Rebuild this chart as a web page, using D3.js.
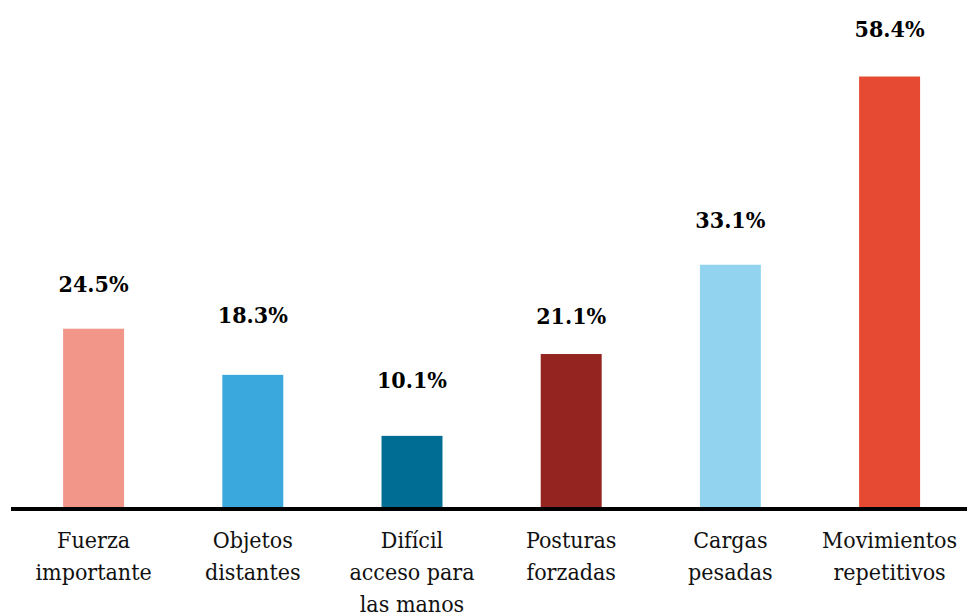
<!DOCTYPE html>
<html>
<head>
<meta charset="utf-8">
<script src="https://cdn.jsdelivr.net/npm/d3@7"></script>
<style>
  html, body { margin: 0; padding: 0; background: #fff; }
  svg { display: block; }
  text { font-family: "DejaVu Serif Condensed", "DejaVu Serif", serif; font-stretch: condensed; }
</style>
</head>
<body>
<svg id="chart" width="967" height="612"></svg>
<script>
// ---- data ----
const categories = ["Fuerza importante", "Objetos distantes", "Difícil acceso para las manos", "Posturas forzadas", "Cargas pesadas", "Movimientos repetitivos"];
const categoryLines = [["Fuerza", "importante"], ["Objetos", "distantes"], ["Difícil", "acceso para", "las manos"], ["Posturas", "forzadas"], ["Cargas", "pesadas"], ["Movimientos", "repetitivos"]];
const values = [24.5, 18.3, 10.1, 21.1, 33.1, 58.4];
const valueLabels = ["24.5%", "18.3%", "10.1%", "21.1%", "33.1%", "58.4%"];

// ---- layout / style (not data) ----
const colors = ["#F19689", "#3AA8DC", "#006E94", "#94241F", "#92D4F0", "#E74A32"];
const labelLift = [37, 52, 48, 30, 37, 40]; // px above bar top for value-label baseline

const svg = d3.select("#chart");
const baseY = 511;

const x = d3.scaleBand()
  .domain(categories)
  .range([14, 969.2])
  .paddingInner(0.617)
  .paddingOuter(0.3085);

const y = d3.scaleLinear()
  .domain([0, 58.4])
  .range([baseY, baseY - 7.44 * 58.4]);

// bars
svg.append("g").selectAll("rect")
  .data(values)
  .join("rect")
  .attr("x", (d, i) => x(categories[i]))
  .attr("width", x.bandwidth())
  .attr("y", d => y(d))
  .attr("height", d => y(0) - y(d))
  .attr("fill", (d, i) => colors[i]);

// value labels
svg.append("g").selectAll("text")
  .data(values)
  .join("text")
  .attr("x", (d, i) => x(categories[i]) + x.bandwidth() / 2)
  .attr("y", (d, i) => y(d) - labelLift[i])
  .attr("text-anchor", "middle")
  .attr("font-weight", "bold")
  .attr("font-size", "23px")
  .attr("fill", "#000")
  .text((d, i) => valueLabels[i]);

// baseline axis
const axis = d3.axisBottom(x).tickSize(0).tickFormat("");
const axisG = svg.append("g")
  .attr("transform", `translate(0, ${baseY - 2})`)
  .call(axis);
axisG.select(".domain").remove();
axisG.append("line")
  .attr("x1", 11).attr("x2", 967)
  .attr("y1", 0).attr("y2", 0)
  .attr("stroke", "#000")
  .attr("stroke-width", 4);

// category labels
const catG = svg.append("g").selectAll("text")
  .data(categories)
  .join("text")
  .attr("text-anchor", "middle")
  .attr("font-size", "23px")
  .attr("fill", "#111");

catG.each(function (c, i) {
  const cx = x(c) + x.bandwidth() / 2;
  d3.select(this).selectAll("tspan")
    .data(categoryLines[i])
    .join("tspan")
    .attr("x", cx)
    .attr("y", (l, j) => 548 + j * 32)
    .text(l => l);
});
</script>
</body>
</html>
